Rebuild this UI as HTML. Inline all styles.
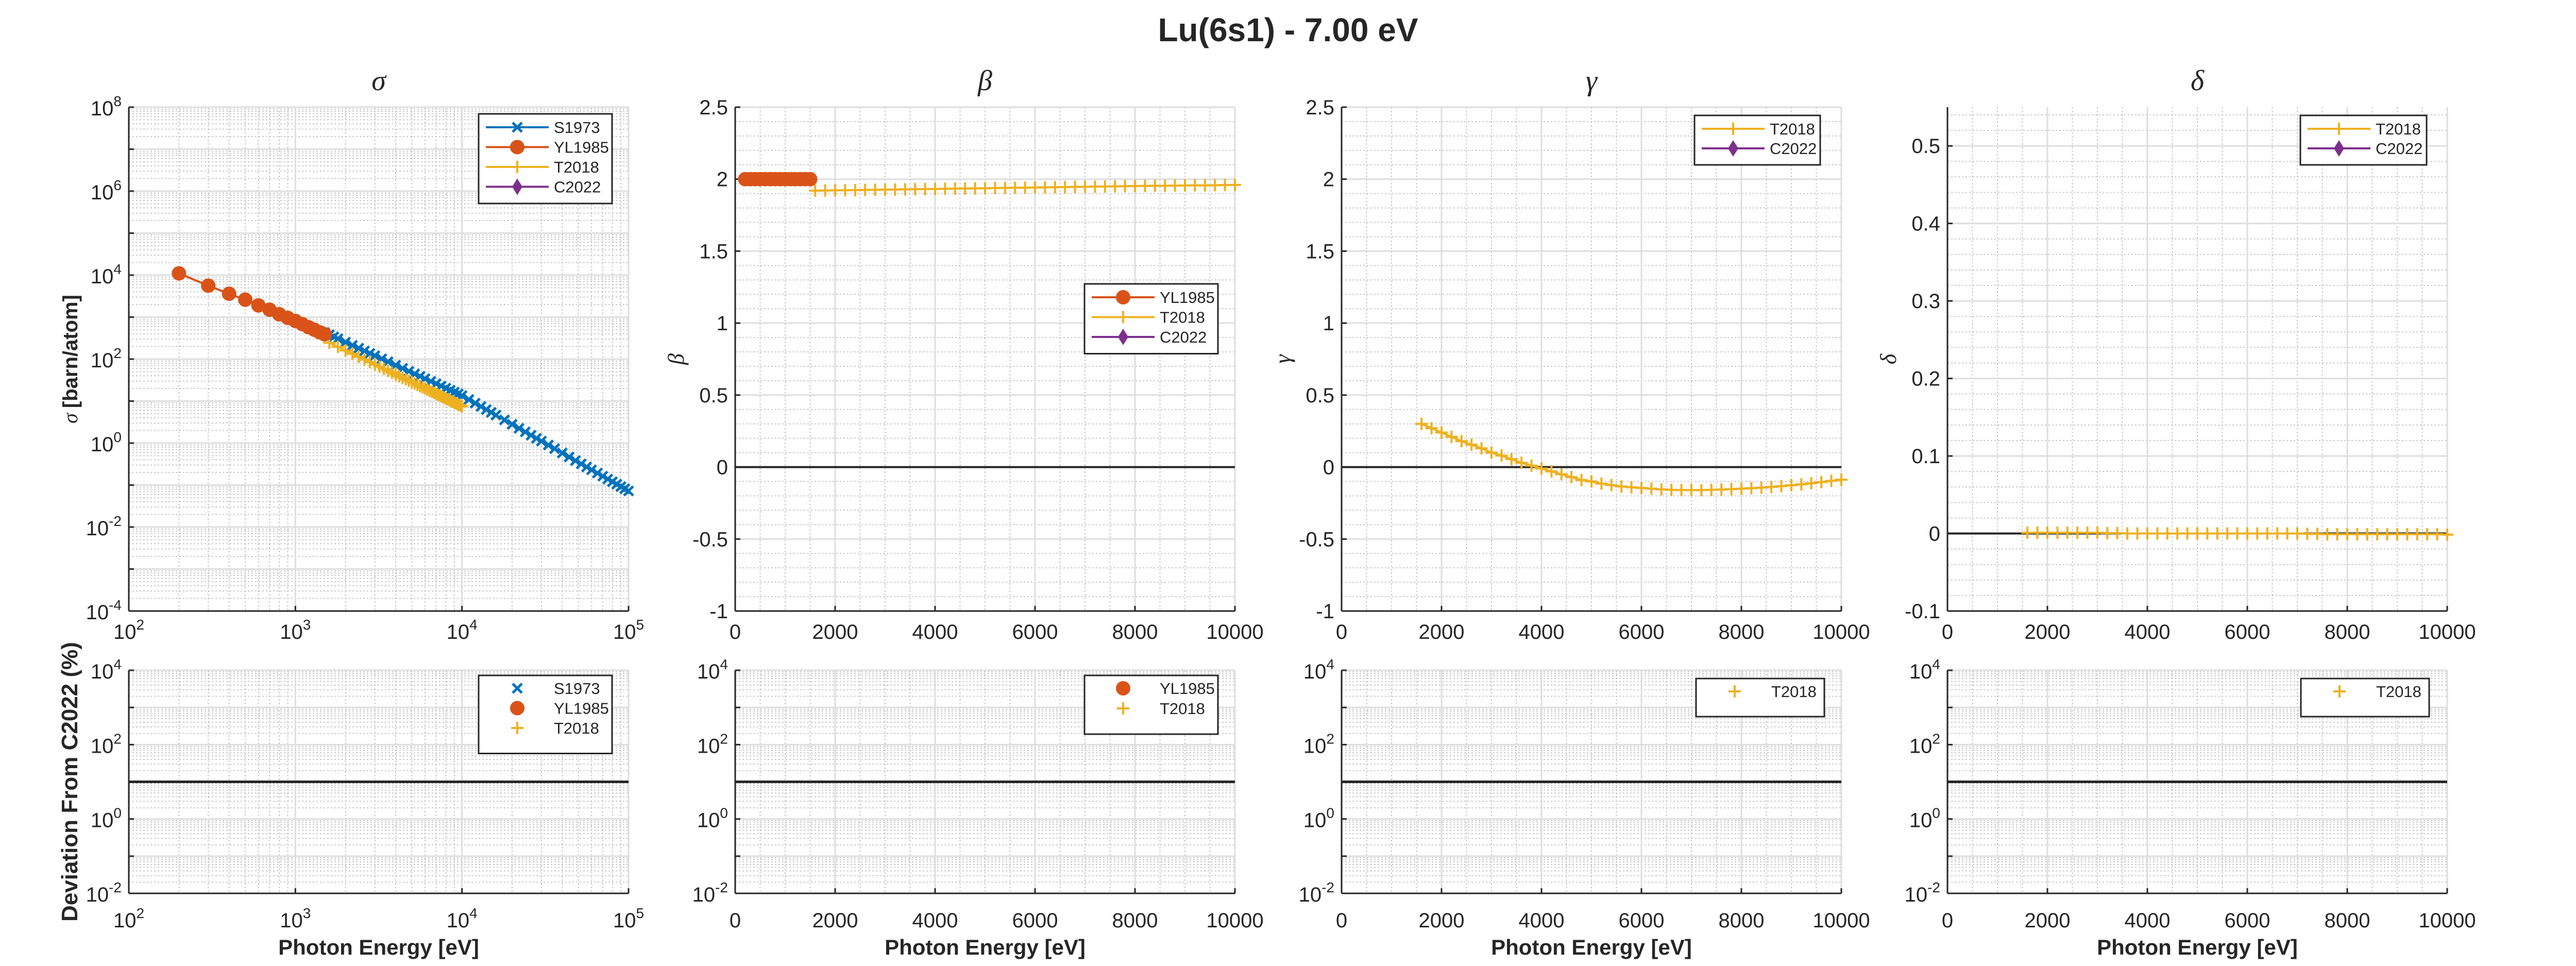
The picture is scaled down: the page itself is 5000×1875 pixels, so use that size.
<!DOCTYPE html>
<html><head><meta charset="utf-8"><style>
html,body{margin:0;padding:0;background:#fff;}
svg{display:block;}
text{font-family:"Liberation Sans",Arial,sans-serif;fill:#262626;}
</style></head><body>
<svg id="fig" xmlns="http://www.w3.org/2000/svg" width="5000" height="1875" viewBox="0 0 5000 1875">
<rect x="0" y="0" width="5000" height="1875" fill="#fff"/>
<text x="2500" y="80" text-anchor="middle" font-size="64" font-weight="bold">Lu(6s1) - 7.00 eV</text>
</svg>
<script>
// ---- data ----
const yl1985Energy = [200,300,400,500,600,700,800,900,1000,1100,1200,1300,1400,1500];
const yl1985Sigma = [11000,5600,3600,2600,1900,1500,1170,960,810,680,575,500,435,390];
const yl1985Beta = [2,2,2,2,2,2,2,2,2,2,2,2,2,2];
const s1973Energy = [1500,1600,1700,1800,2000,2200,2400,2600,2800,3000,3300,3600,4000,4400,4800,5200,5600,6000,6500,7000,7500,8000,8500,9000,9500,10000,11000,12000,13000,14000,15000,16000,18000,20000,22000,24000,26000,28000,30000,33000,36000,40000,44000,48000,52000,56000,60000,65000,70000,75000,80000,85000,90000,95000,100000];
const s1973Sigma = [427,380,340,306,253,213,182,157,137,121,102,86.7,71.6,60.2,51.4,44.4,38.8,34.2,29.6,25.9,22.8,20.3,18.2,16.4,14.9,13.5,10.9,8.92,7.44,6.29,5.38,4.64,3.56,2.80,2.25,1.85,1.54,1.30,1.115,0.898,0.737,0.580,0.467,0.383,0.320,0.270,0.231,0.193,0.163,0.139,0.120,0.105,0.092,0.0814,0.0725];
const t2018Energy = [1600,1800,2000,2200,2400,2600,2800,3000,3200,3400,3600,3800,4000,4200,4400,4600,4800,5000,5200,5400,5600,5800,6000,6200,6400,6600,6800,7000,7200,7400,7600,7800,8000,8200,8400,8600,8800,9000,9200,9400,9600,9800,10000];
const t2018Sigma = [245,196,160,134,113,97,85,74,66,58.5,52.5,47.4,43,39,35.8,33,30.4,28.1,26.1,24.3,22.7,21.2,19.9,18.7,17.6,16.6,15.7,14.9,14.1,13.4,12.7,12.1,11.5,11.0,10.5,10.0,9.6,9.2,8.8,8.5,8.1,7.8,7.5];
const t2018Beta = [1.920,1.921,1.922,1.923,1.924,1.925,1.926,1.927,1.928,1.929,1.930,1.931,1.932,1.933,1.934,1.935,1.936,1.937,1.938,1.939,1.940,1.941,1.942,1.943,1.944,1.945,1.946,1.947,1.948,1.949,1.950,1.951,1.952,1.953,1.954,1.954,1.955,1.956,1.957,1.957,1.958,1.959,1.960];
const t2018Gamma = [0.30,0.27,0.24,0.21,0.18,0.155,0.13,0.10,0.08,0.055,0.03,0.01,-0.01,-0.03,-0.05,-0.07,-0.09,-0.10,-0.115,-0.125,-0.135,-0.14,-0.145,-0.15,-0.155,-0.158,-0.16,-0.16,-0.16,-0.158,-0.156,-0.153,-0.15,-0.147,-0.143,-0.138,-0.132,-0.126,-0.12,-0.112,-0.104,-0.096,-0.088];
const t2018Delta = [0.001,0.001,0.001,0.001,0.001,0.001,0.001,0.001,0.0005,0.0005,0,0,0,0,0,0,0,0,0,0,0,0,0,0,0,0,0,0,-0.0005,-0.0005,-0.001,-0.001,-0.001,-0.001,-0.001,-0.001,-0.001,-0.001,-0.001,-0.001,-0.001,-0.001,-0.0015];
const deviationRef = [10];
const linTicks = [0,2000,4000,6000,8000,10000];
const logXTicks = [2,3,4,5];
const betaTicks = [-1,-0.5,0,0.5,1,1.5,2,2.5];
const deltaTicks = [-0.1,0,0.1,0.2,0.3,0.4,0.5];
const sigmaYTicks = [-4,-2,0,2,4,6,8];
const devYTicks = [-2,0,2,4];

const C = {blue:'#0072BD',orange:'#D95319',yellow:'#EDB120',purple:'#7E2F8E'};
const NS='http://www.w3.org/2000/svg';
const svg=document.getElementById('fig');
function mk(tag,attrs,parent){const e=document.createElementNS(NS,tag);for(const k in attrs)e.setAttribute(k,attrs[k]);(parent||svg).appendChild(e);return e;}

const LEFTS=[250,1427,2604,3780], W=970;
const TOP={y0:208,y1:1186}, BOT={y0:1301,y1:1734};

function scaleLin(d0,d1,r0,r1){return v=>r0+(v-d0)/(d1-d0)*(r1-r0);}
function scaleLog(d0,d1,r0,r1){return v=>r0+(Math.log10(v)-d0)/(d1-d0)*(r1-r0);}

function grid(g,x0,x1,y0,y1,xs,ys){
  xs.minor.forEach(p=>{const l=mk('line',{x1:p,x2:p,y1:y0,y2:y1,stroke:'#c8c8c8','stroke-width':2,'stroke-dasharray':'3,4'},g);});
  ys.minor.forEach(p=>{const l=mk('line',{x1:x0,x2:x1,y1:p,y2:p,stroke:'#c8c8c8','stroke-width':2,'stroke-dasharray':'3,4'},g);});
  xs.major.forEach(p=>{const l=mk('line',{x1:p,x2:p,y1:y0,y2:y1,stroke:'#dedede','stroke-width':3},g);});
  ys.major.forEach(p=>{const l=mk('line',{x1:x0,x2:x1,y1:p,y2:p,stroke:'#dedede','stroke-width':3},g);});
}
function logGrid(d0,d1,f){const major=[],minor=[];for(let d=d0;d<=d1;d++){major.push(f(Math.pow(10,d)));if(d<d1)for(let m=2;m<=9;m++)minor.push(f(m*Math.pow(10,d)));}return {major,minor};}
function linGrid(a,b,step,mstep,f){const major=[],minor=[];for(let v=a;v<=b+1e-9;v+=mstep){const r=Math.round(v/step*1000)/1000;if(Math.abs(r-Math.round(r))<1e-6)major.push(f(v));else minor.push(f(v));}return {major,minor};}

function axesLines(g,x0,x1,y0,y1,xt,yt){
  const a=mk('line',{x1:x0,x2:x0,y1:y0,y2:y1,stroke:'#262626','stroke-width':3},g);
  const b=mk('line',{x1:x0,x2:x1,y1:y1,y2:y1,stroke:'#262626','stroke-width':3},g);
  xt.forEach(p=>{const t=mk('line',{x1:p,x2:p,y1:y1,y2:y1-10,stroke:'#262626','stroke-width':3},g);});
  yt.forEach(p=>{const t=mk('line',{x1:x0,x2:x0+10,y1:p,y2:p,stroke:'#262626','stroke-width':3},g);});
}
function powLabel(g,x,y,exp,anchor,name){
  const t=mk('text',{x:x,y:y,'font-size':40,'text-anchor':anchor},g);
  
  t.appendChild(document.createTextNode('10'));
  const s=mk('tspan',{dy:-18,'font-size':28},t);s.textContent=String(exp);
  return t;
}
function txt(g,x,y,s,attrs,name){const t=mk('text',Object.assign({x:x,y:y},attrs),g);t.textContent=s;return t;}

function marker(g,type,x,y,color){
  let e;
  if(type==='o'){e=mk('circle',{cx:x,cy:y,r:13,fill:color,stroke:color,'stroke-width':2},g);}
  else if(type==='+'){e=mk('path',{d:`M${x-12},${y}H${x+12}M${x},${y-12}V${y+12}`,stroke:color,'stroke-width':4,fill:'none'},g);}
  else if(type==='x'){e=mk('path',{d:`M${x-9},${y-9}L${x+9},${y+9}M${x-9},${y+9}L${x+9},${y-9}`,stroke:color,'stroke-width':5,fill:'none'},g);}
  else if(type==='d'){e=mk('path',{d:`M${x},${y-16}L${x+10},${y}L${x},${y+16}L${x-10},${y}Z`,fill:color},g);}
  return e;
}
function series(g,xs,ys,fx,fy,color,type,name){
  const sg=mk('g',{},g);
  const pts=xs.map((v,i)=>fx(v).toFixed(1)+','+fy(ys[i]).toFixed(1)).join(' ');
  const pl=mk('polyline',{points:pts,fill:'none',stroke:color,'stroke-width':4},sg);
  
  xs.forEach((v,i)=>{const m=marker(sg,type,fx(v),fy(ys[i]),color);});
}
function legend(g,x0,y0,w,entries,withLine,rowH,name){
  const lg=mk('g',{},g);
  const h=entries.length*rowH+ (withLine?20:36);
  const r=mk('rect',{x:x0,y:y0,width:w,height:h,fill:'#fff',stroke:'#262626','stroke-width':3},lg);
  
  entries.forEach((en,i)=>{
    const cy=y0+(withLine?26:25)+rowH*i;
    const eg=mk('g',{},lg);
    if(withLine){const l=mk('line',{x1:x0+14,x2:x0+136,y1:cy,y2:cy,stroke:en[1],'stroke-width':4},eg);}
    const m=marker(eg,en[2],x0+75,cy,en[1]);
    txt(eg,x0+146,cy+11,en[0],{'font-size':31},'legend-label');
  });
}

const titles=['σ','β','γ','δ'];
LEFTS.forEach((x0,pi)=>{
  const x1=x0+W;
  const g=mk('g',{});
  let fx,fy,xg,yg;
  if(pi===0){fx=scaleLog(2,5,x0,x1);fy=scaleLog(-4,8,TOP.y1,TOP.y0);xg=logGrid(2,5,fx);yg=logGrid(-4,8,fy);}
  else{fx=scaleLin(0,10000,x0,x1);xg=linGrid(0,10000,2000,500,fx);
    if(pi===3){fy=scaleLin(-0.1,0.55,TOP.y1,TOP.y0);yg=linGrid(-0.1,0.55,0.1,0.02,fy);}
    else{fy=scaleLin(-1,2.5,TOP.y1,TOP.y0);yg=linGrid(-1,2.5,0.5,0.1,fy);}}
  grid(g,x0,x1,TOP.y0,TOP.y1,xg,yg);
  axesLines(g,x0,x1,TOP.y0,TOP.y1,xg.major,yg.major);
  txt(g,x0+W/2,175,titles[pi],{'font-size':56,'font-style':'italic','text-anchor':'middle',style:'font-family:"Liberation Serif",serif'},'panel-title');
  if(pi===0){
    logXTicks.forEach(d=>powLabel(g,fx(Math.pow(10,d)),1240,d,'middle','x-tick-label'));
    sigmaYTicks.forEach(d=>powLabel(g,x0-14,fy(Math.pow(10,d))+16,d,'end','y-tick-label'));
    const yl=txt(g,0,0,'',{'font-size':40,'text-anchor':'middle',transform:`translate(${x0-100},${(TOP.y0+TOP.y1)/2}) rotate(-90)`},'y-axis-title');
    const s1=mk('tspan',{'font-style':'italic',style:'font-family:"Liberation Serif",serif'},yl);s1.textContent='σ ';
    const s2=mk('tspan',{'font-weight':'bold'},yl);s2.textContent='[barn/atom]';
    series(g,s1973Energy,s1973Sigma,fx,fy,C.blue,'x','series-s1973');
    series(g,t2018Energy,t2018Sigma,fx,fy,C.yellow,'+','series-t2018');
    series(g,yl1985Energy,yl1985Sigma,fx,fy,C.orange,'o','series-yl1985');
    legend(g,929,221,259,[['S1973',C.blue,'x'],['YL1985',C.orange,'o'],['T2018',C.yellow,'+'],['C2022',C.purple,'d']],true,38.5,'legend-sigma');
  } else {
    linTicks.forEach(v=>txt(g,fx(v),1240,String(v),{'font-size':40,'text-anchor':'middle'},'x-tick-label'));
    const yt=pi===3?deltaTicks:betaTicks;
    yt.forEach(v=>txt(g,x0-14,fy(v)+14,String(v),{'font-size':40,'text-anchor':'end'},'y-tick-label'));
    txt(g,0,0,titles[pi],{'font-size':44,'font-style':'italic','text-anchor':'middle',style:'font-family:"Liberation Serif",serif',transform:`translate(${x0-100},${(TOP.y0+TOP.y1)/2}) rotate(-90)`},'y-axis-title');
    const z=mk('line',{x1:x0,x2:x1,y1:fy(0),y2:fy(0),stroke:'#262626','stroke-width':4},g);
    if(pi===1){
      series(g,t2018Energy,t2018Beta,fx,fy,C.yellow,'+','series-t2018');
      series(g,yl1985Energy,yl1985Beta,fx,fy,C.orange,'o','series-yl1985');
      legend(g,2105,551,259,[['YL1985',C.orange,'o'],['T2018',C.yellow,'+'],['C2022',C.purple,'d']],true,38.5,'legend-beta');
    } else if(pi===2){
      series(g,t2018Energy,t2018Gamma,fx,fy,C.yellow,'+','series-t2018');
      legend(g,3289,224,244,[['T2018',C.yellow,'+'],['C2022',C.purple,'d']],true,38,'legend-gamma');
    } else {
      series(g,t2018Energy,t2018Delta,fx,fy,C.yellow,'+','series-t2018');
      legend(g,4465,224,245,[['T2018',C.yellow,'+'],['C2022',C.purple,'d']],true,38,'legend-delta');
    }
  }
  const b=mk('g',{});
  const bfx=pi===0?scaleLog(2,5,x0,x1):scaleLin(0,10000,x0,x1);
  const bfy=scaleLog(-2,4,BOT.y1,BOT.y0);
  const bxg=pi===0?logGrid(2,5,bfx):linGrid(0,10000,2000,500,bfx);
  const byg=logGrid(-2,4,bfy);
  grid(b,x0,x1,BOT.y0,BOT.y1,bxg,byg);
  axesLines(b,x0,x1,BOT.y0,BOT.y1,bxg.major,byg.major);
  devYTicks.forEach(d=>powLabel(b,x0-14,bfy(Math.pow(10,d))+16,d,'end','y-tick-label'));
  if(pi===0) logXTicks.forEach(d=>powLabel(b,bfx(Math.pow(10,d)),1800,d,'middle','x-tick-label'));
  else linTicks.forEach(v=>txt(b,bfx(v),1800,String(v),{'font-size':40,'text-anchor':'middle'},'x-tick-label'));
  const rl=mk('line',{x1:x0,x2:x1,y1:bfy(deviationRef[0]),y2:bfy(deviationRef[0]),stroke:'#262626','stroke-width':5},b);
  
  txt(b,x0+W/2,1853,'Photon Energy [eV]',{'font-size':42,'font-weight':'bold','text-anchor':'middle'},'x-axis-title');
  if(pi===0){
    txt(b,0,0,'Deviation From C2022 (%)',{'font-size':44,'font-weight':'bold','text-anchor':'middle',transform:`translate(${x0-100},${(BOT.y0+BOT.y1)/2}) rotate(-90)`},'y-axis-title');
    legend(b,929,1311,259,[['S1973',C.blue,'x'],['YL1985',C.orange,'o'],['T2018',C.yellow,'+']],false,38.5,'legend-deviation');
  } else if(pi===1){
    legend(b,2105,1311,259,[['YL1985',C.orange,'o'],['T2018',C.yellow,'+']],false,39,'legend-deviation');
  } else if(pi===2){
    legend(b,3292,1317,249,[['T2018',C.yellow,'+']],false,38,'legend-deviation');
  } else {
    legend(b,4466,1317,249,[['T2018',C.yellow,'+']],false,38,'legend-deviation');
  }
});
</script>
</body></html>
